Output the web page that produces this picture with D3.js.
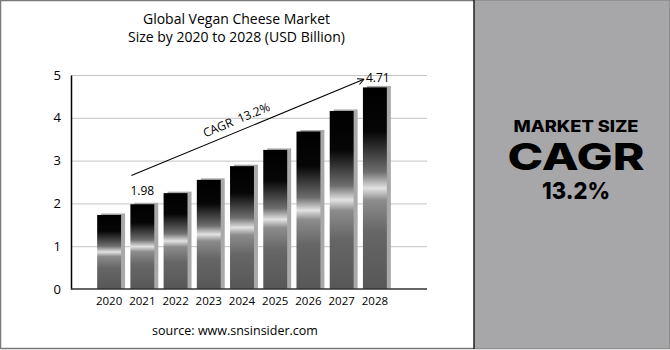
<!DOCTYPE html>
<html>
<head>
<meta charset="utf-8">
<script src="https://cdn.jsdelivr.net/npm/d3@7"></script>
<style>
  body { margin: 0; background: #fff; }
  svg { display: block; }
</style>
</head>
<body>
<svg width="670" height="350"></svg>
<script>
// data
const years = ["2020", "2021", "2022", "2023", "2024", "2025", "2026", "2027", "2028"];
const marketSize = [1.73, 1.98, 2.24, 2.55, 2.87, 3.25, 3.68, 4.16, 4.71];
const yTicks = [0, 1, 2, 3, 4, 5];
const titleLines = ["Global Vegan Cheese Market", "Size by 2020 to 2028 (USD Billion)"];
const cagrLabel = "CAGR  13.2%";
// arrow runs from the left of 2021 to the left of 2028 (value units)
const arrowFrom = ["2021", 2.65];
const arrowTo = ["2028", 4.9];
const panelLines = ["MARKET SIZE", "CAGR", "13.2%"];
const sourceText = "source: www.snsinsider.com";

const svg = d3.select("svg");
const font = "'Open Sans', sans-serif";

// scales
const xScale = d3.scaleBand().domain(years).range([92.5, 391.5])
  .paddingInner(0.28).paddingOuter(0.14);
const yScale = d3.scaleLinear().domain([0, 5]).range([289, 75]);

// frame
svg.append("rect").attr("x", 0.5).attr("y", 0.5).attr("width", 669).attr("height", 348)
  .attr("fill", "#fff").attr("stroke", "#7a7a7a").attr("stroke-width", 1.5);

// gradient for the bars
const defs = svg.append("defs");
const grad = defs.append("linearGradient").attr("id", "barGrad")
  .attr("x1", 0).attr("y1", 0).attr("x2", 0).attr("y2", 1);
[[0, "#000"], [0.22, "#060606"], [0.42, "#6e6e6e"], [0.5, "#e2e2e2"],
 [0.56, "#8c8c8c"], [0.72, "#666"], [1, "#575757"]].forEach(([o, c]) => {
  grad.append("stop").attr("offset", o).attr("stop-color", c);
});

// grid
const grid = svg.append("g").attr("id", "gridG")
  .attr("transform", "translate(71,0)")
  .call(d3.axisRight(yScale).tickValues(yTicks.slice(1)).tickSize(356).tickFormat(""));
grid.select("path.domain").remove();
grid.selectAll("line").attr("stroke", "#c4c4c4");

// bars with shadow
const bars = svg.append("g").selectAll("g.bar")
  .data(years.map((y, i) => ({ year: y, value: marketSize[i] })))
  .enter().append("g").attr("class", "bar");

bars.append("rect")
  .attr("x", (d) => xScale(d.year) + 4)
  .attr("y", (d) => yScale(d.value) - 1.5)
  .attr("width", xScale.bandwidth())
  .attr("height", (d) => yScale(0) - yScale(d.value) + 1.5)
  .attr("fill", "#a9a9a9");

bars.append("rect")
  .attr("x", (d) => xScale(d.year))
  .attr("y", (d) => yScale(d.value))
  .attr("width", xScale.bandwidth())
  .attr("height", (d) => yScale(0) - yScale(d.value))
  .attr("fill", "url(#barGrad)");

// axes
const yAxis = svg.append("g").attr("transform", "translate(71,0)")
  .call(d3.axisLeft(yScale).tickValues(yTicks).tickFormat(d3.format("d"))
    .tickSize(0).tickPadding(10));
yAxis.select("path.domain").attr("stroke", "#000").attr("stroke-width", 1.5);
yAxis.selectAll("text").attr("font-family", font).attr("font-size", 13).attr("fill", "#000");

const xAxis = svg.append("g").attr("transform", "translate(0,289)")
  .call(d3.axisBottom(xScale).tickSize(0).tickPadding(8));
xAxis.select("path.domain").remove();
xAxis.selectAll("text").attr("font-family", font).attr("font-size", 11.5).attr("fill", "#000");
svg.append("line").attr("x1", 71).attr("x2", 427).attr("y1", 289).attr("y2", 289)
  .attr("stroke", "#333").attr("stroke-width", 1.5);

// value labels
svg.append("text").attr("x", xScale("2021") + xScale.bandwidth() / 2).attr("y", 195)
  .attr("text-anchor", "middle").attr("font-family", font).attr("font-size", 12)
  .text(marketSize[1].toFixed(2));

// CAGR arrow
defs.append("marker").attr("id", "arrowHead").attr("viewBox", "0 0 10 10")
  .attr("refX", 9).attr("refY", 5).attr("markerWidth", 7).attr("markerHeight", 7)
  .attr("orient", "auto").append("path").attr("d", "M1,1 L9,5 L1,9")
  .attr("fill", "none").attr("stroke", "#000").attr("stroke-width", 1.3);

const ax1 = xScale(arrowFrom[0]) + 1, ay1 = yScale(arrowFrom[1]);
const ax2 = xScale(arrowTo[0]) + 1, ay2 = yScale(arrowTo[1]);
svg.append("line").attr("x1", ax1).attr("y1", ay1).attr("x2", ax2).attr("y2", ay2)
  .attr("stroke", "#000").attr("stroke-width", 1.1).attr("marker-end", "url(#arrowHead)");

svg.append("text").attr("x", ax2 + 2).attr("y", ay2 + 3)
  .attr("font-family", font).attr("font-size", 12)
  .text(marketSize[marketSize.length - 1].toFixed(2));

const angle = Math.atan2(ay2 - ay1, ax2 - ax1) * 180 / Math.PI;
const mx = ax1 + (ax2 - ax1) * 0.47, my = ay1 + (ay2 - ay1) * 0.47;
svg.append("text")
  .attr("transform", `translate(${mx},${my}) rotate(${angle}) translate(0,-7)`)
  .attr("text-anchor", "middle").attr("font-family", font).attr("font-size", 12)
  .text(cagrLabel).style("white-space", "pre");

// title
svg.append("g").selectAll("text").data(titleLines).enter().append("text")
  .attr("x", 236.5).attr("y", (d, i) => 24 + i * 17.5)
  .attr("text-anchor", "middle").attr("font-family", font).attr("font-size", 14)
  .attr("fill", "#000").text((d) => d);

// source
svg.append("text").attr("x", 235).attr("y", 335).attr("text-anchor", "middle")
  .attr("font-family", font).attr("font-size", 12.5).attr("fill", "#000").text(sourceText);

// right panel
svg.append("rect").attr("x", 474).attr("y", 0.5).attr("width", 195.5).attr("height", 348)
  .attr("fill", "#a7a7aa");
svg.append("line").attr("x1", 474).attr("x2", 474).attr("y1", 0).attr("y2", 349)
  .attr("stroke", "#222").attr("stroke-width", 1.5);

const panelStyle = [
  { y: 132, size: 16, width: 125 },
  { y: 170, size: 37, width: 137 },
  { y: 199, size: 23, width: 68 }
];
svg.append("g").selectAll("text").data(panelLines).enter().append("text")
  .attr("x", 576).attr("y", (d, i) => panelStyle[i].y)
  .attr("text-anchor", "middle").attr("font-family", "Inter, sans-serif")
  .attr("font-weight", 800).attr("font-size", (d, i) => panelStyle[i].size)
  .attr("textLength", (d, i) => panelStyle[i].width).attr("lengthAdjust", "spacingAndGlyphs")
  .attr("fill", "#000").text((d) => d);
</script>
</body>
</html>
